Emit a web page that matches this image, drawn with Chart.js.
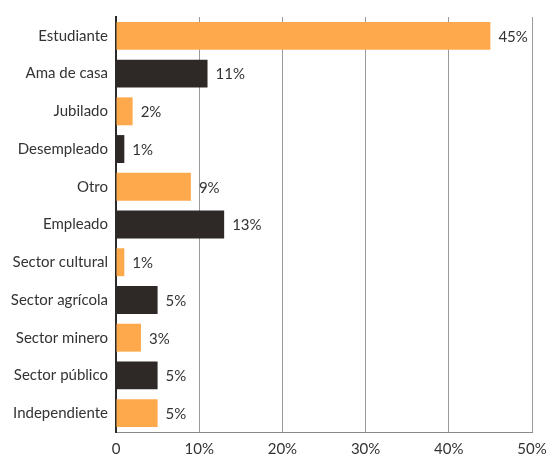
<!DOCTYPE html>
<html>
<head>
<meta charset="utf-8">
<script src="https://cdn.jsdelivr.net/npm/chart.js@4/dist/chart.umd.min.js"></script>
<style>
  html, body { margin: 0; padding: 0; background: #fff; }
  #wrap { width: 548px; height: 456px; }
</style>
</head>
<body>
<div id="wrap"><canvas id="occChart" width="548" height="456"></canvas></div>
<script>
// occupation breakdown (percent)
const categories = ['Estudiante','Ama de casa','Jubilado','Desempleado','Otro','Empleado',
  'Sector cultural','Sector agrícola','Sector minero','Sector público','Independiente'];
const values = [45, 11, 2, 1, 9, 13, 1, 5, 3, 5, 5];
const xTicks = [0, 10, 20, 30, 40, 50];

const ORANGE = '#FFA94D';
const DARK = '#2E2926';
const FONT = 'Lato, "Open Sans", sans-serif';
const barColors = categories.map((c, i) => i % 2 === 0 ? ORANGE : DARK);

// value labels just past the end of each bar
const valueLabels = {
  id: 'valueLabels',
  afterDatasetsDraw(chart) {
    const ctx = chart.ctx;
    const meta = chart.getDatasetMeta(0);
    ctx.save();
    ctx.font = '15px ' + FONT;
    ctx.fillStyle = '#333';
    ctx.textAlign = 'left';
    ctx.textBaseline = 'middle';
    meta.data.forEach((bar, i) => {
      ctx.fillText(values[i] + '%', bar.x + 8, bar.y + 1);
    });
    ctx.restore();
  }
};

new Chart(document.getElementById('occChart').getContext('2d'), {
  type: 'bar',
  data: {
    labels: categories,
    datasets: [{
      data: values,
      backgroundColor: barColors,
      borderWidth: 0,
      barPercentage: 0.74,
      categoryPercentage: 1
    }]
  },
  options: {
    indexAxis: 'y',
    responsive: false,
    animation: false,
    layout: { padding: { top: 16, right: 16, bottom: 0, left: 0 } },
    plugins: { legend: { display: false }, tooltip: { enabled: false } },
    scales: {
      x: {
        min: 0,
        max: 50,
        afterBuildTicks: axis => { axis.ticks = xTicks.map(v => ({ value: v })); },
        afterFit: axis => { axis.height = 24; axis.paddingRight = 0; axis.paddingLeft = 0; },
        grid: {
          color: c => c.tick && c.tick.value === 0 ? 'rgba(0,0,0,0)' : '#9a9a9a',
          lineWidth: 1,
          drawTicks: false
        },
        border: { color: '#8a8a8a', width: 1 },
        ticks: {
          padding: 8,
          color: '#333',
          font: { family: FONT, size: 15 },
          callback: v => v === 0 ? '0' : v + '%'
        }
      },
      y: {
        grid: { display: false, drawTicks: false },
        border: { color: '#2a2a2a', width: 2 },
        afterFit: axis => { axis.width = 116; },
        ticks: {
          padding: 8,
          color: '#333',
          font: { family: FONT, size: 15 }
        }
      }
    }
  },
  plugins: [valueLabels]
});
</script>
</body>
</html>
